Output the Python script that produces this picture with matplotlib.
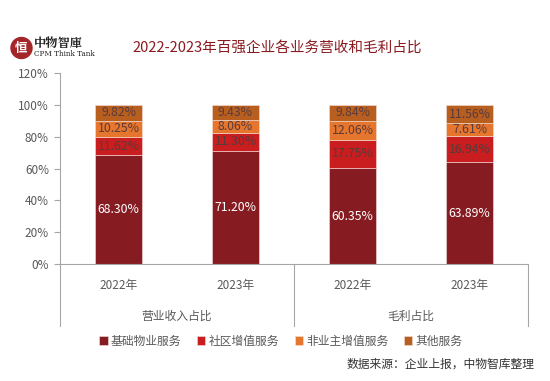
import matplotlib
matplotlib.use("Agg")
import matplotlib.pyplot as plt
from matplotlib.patches import Circle, Rectangle
import numpy as np

plt.rcParams['font.family'] = ['Noto Sans CJK SC', 'DejaVu Sans']

years = ["2022年", "2023年", "2022年", "2023年"]
groups = ["营业收入占比", "毛利占比"]
series_names = ["基础物业服务", "社区增值服务", "非业主增值服务", "其他服务"]
base = [68.30, 71.20, 60.35, 63.89]
community = [11.62, 11.30, 17.75, 16.94]
nonowner = [10.25, 8.06, 12.06, 7.61]
other = [9.82, 9.43, 9.84, 11.56]
yticks = [0, 20, 40, 60, 80, 100, 120]

colors = ["#861C22", "#C91D1F", "#E6762D", "#B85F20"]
label_colors = ["white", "#5A3A3A", "#5A3A3A", "#5A3A3A"]

W, H = 550, 381
fig = plt.figure(figsize=(W / 100, H / 100), dpi=100)
ax_l, ax_r, ax_b, ax_t = 60, 528, 264, 73.3
ax = fig.add_axes([ax_l / W, 1 - ax_b / H, (ax_r - ax_l) / W, (ax_b - ax_t) / H])

x = np.arange(len(years))
series = [base, community, nonowner, other]
bottom = np.zeros(len(years))
handles = []
for vals, c, lc, name in zip(series, colors, label_colors, series_names):
    vals = np.array(vals)
    b = ax.bar(x, vals, 0.4, bottom=bottom, color=c, edgecolor="#F4E0DC", linewidth=0.4, label=name)
    handles.append(b)
    for xi, v, bt in zip(x, vals, bottom):
        ax.text(xi, bt + v / 2, f"{v:.2f}%", ha="center", va="center", fontsize=8.8, color=lc)
    bottom += vals

ax.set_xlim(-0.5, 3.5)
ax.set_ylim(0, 120)
ax.set_yticks(yticks)
ax.set_yticklabels([f"{t}%" for t in yticks], color="#595959", fontsize=8.5)
ax.set_xticks([])
for s in ["top", "right"]:
    ax.spines[s].set_visible(False)
for s in ["left", "bottom"]:
    ax.spines[s].set_color("#A6A6A6")
    ax.spines[s].set_linewidth(0.8)
ax.tick_params(axis="y", length=4, color="#A6A6A6", pad=4)

# multi-level category axis
depth = -(326 - ax_b) / (ax_b - ax_t)
trans = ax.get_xaxis_transform()
for xv in [-0.5, 1.5, 3.5]:
    ax.plot([xv, xv], [0, depth], transform=trans, color="#A6A6A6", lw=0.8, clip_on=False)
yr_y = -(285 - ax_b) / (ax_b - ax_t)
grp_y = -(316 - ax_b) / (ax_b - ax_t)
for xi, yl in zip(x, years):
    ax.text(xi, yr_y, yl, transform=trans, ha="center", va="center", fontsize=8.5, color="#595959")
for gi, gl in enumerate(groups):
    ax.text(gi * 2 + 0.5, grp_y, gl, transform=trans, ha="center", va="center", fontsize=8.5, color="#595959")

# legend
fig.legend(handles, series_names, loc="center", bbox_to_anchor=(281 / W, 1 - 341 / H), ncol=4,
           frameon=False, fontsize=8.5, handlelength=0.7, handleheight=0.7, handletextpad=0.3,
           columnspacing=1.3, labelcolor="#595959")

# title
fig.text(277 / W, 1 - 48 / H, "2022-2023年百强企业各业务营收和毛利占比", ha="center", va="center",
         fontsize=10.5, color="#8B1A1F")

# source
fig.text(535 / W, 1 - 364 / H, "数据来源：企业上报，中物智库整理", ha="right", va="center",
         fontsize=8.5, color="#333333")

# logo
lax = fig.add_axes([0, 0, 1, 1], facecolor="none")
lax.set_xlim(0, W)
lax.set_ylim(H, 0)
lax.axis("off")
lax.add_patch(Circle((21.5, 48), 10.5, color="#A3262A"))
lax.text(21.5, 48.5, "恒", ha="center", va="center", fontsize=9, color="white", fontweight="bold")
lax.text(33.5, 43, "中物智庫", ha="left", va="center", fontsize=8.8, color="#222222", fontweight="bold",
         family=["Noto Serif CJK SC", "Noto Sans CJK SC"])
lax.text(33.5, 53.5, "CPM Think Tank", ha="left", va="center", fontsize=5.2, color="#222222",
         family=["DejaVu Serif"])

fig.savefig("out.png", dpi=100)
